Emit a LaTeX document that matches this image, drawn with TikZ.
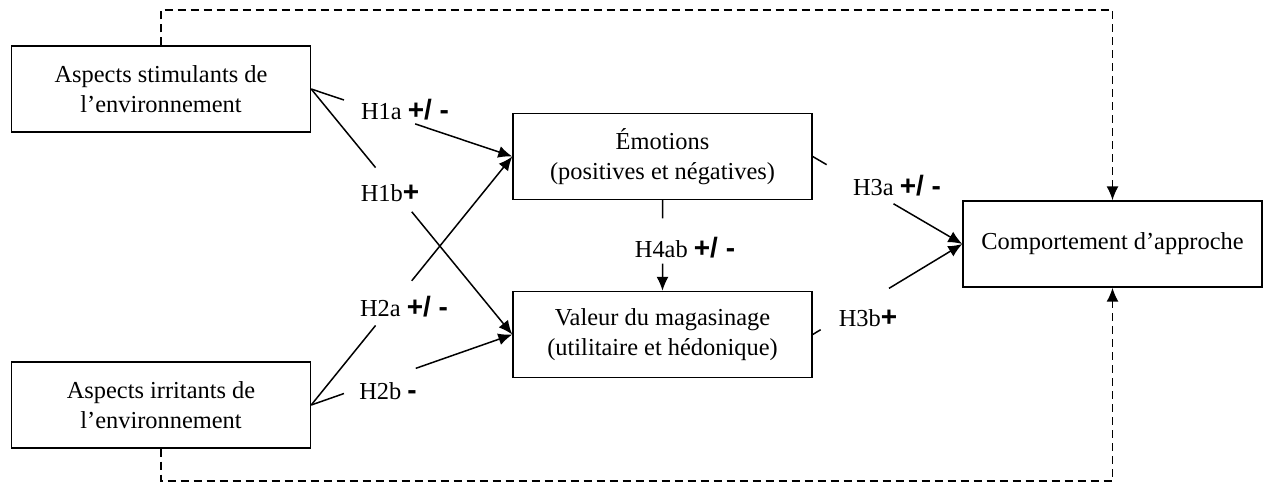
\documentclass[tikz,border=0pt]{standalone}
\usepackage{fontspec}
\setmainfont{Liberation Serif}
\setsansfont{Liberation Sans}
\usetikzlibrary{calc, arrows.meta}
\tikzset{
	boite/.style={draw, line width=0.7pt, minimum width=149.5pt, minimum height=43pt, align=center, inner sep=2pt},
	hyp/.style={inner sep=0pt},
	fleche/.style={line width=0.75pt},
	pointe/.style={-{Latex[length=7pt, width=6pt]}},
	retour/.style={line width=0.75pt, dash pattern=on 4pt off 2.5pt}
}
\newcommand{\signe}[1]{{\fontsize{14}{15}\selectfont\sffamily\bfseries #1}}

\begin{document}
\begin{tikzpicture}[x=0.5pt, y=-0.5pt, font=\fontsize{12.2}{15}\selectfont]
		\useasboundingbox (0,0) rectangle (1263,484);
		
		\node[boite] (stim) at (161, 89) {Aspects stimulants de\\l'environnement};
		\node[boite] (irr) at (161, 405) {Aspects irritants de\\l'environnement};
		\node[boite] (emo) at (662.5, 156.5) {Émotions\\(positives et négatives)};
		\node[boite] (val) at (662.5, 334.5) {Valeur du magasinage\\(utilitaire et hédonique)};
		\node[boite] (comp) at (1112.5, 244) {Comportement d'approche};
		
		\node[hyp] (h1a) at (405, 110) {H1a \signe{+/ -}};
		\node[hyp] (h1b) at (390, 193) {H1b\signe{+}};
		\node[hyp] (h2a) at (404, 307) {H2a \signe{+/ -}};
		\node[hyp] (h2b) at (388, 391) {H2b \signe{-}};
		\node[hyp] (h4ab) at (685, 248) {H4ab \signe{+/ -}};
		\node[hyp] (h3a) at (897, 186) {H3a \signe{+/ -}};
		\node[hyp] (h3b) at (868, 318) {H3b\signe{+}};
		
		% coupures des fleches autour des hypotheses
		\coordinate (a1) at ($(stim.east)!0.163!(emo.west)$);
		\coordinate (a2) at ($(stim.east)!0.517!(emo.west)$);
		\coordinate (b1) at ($(stim.east)!0.32!(val.west)$);
		\coordinate (b2) at ($(stim.east)!0.5!(val.west)$);
		\coordinate (c1) at ($(irr.east)!0.32!(emo.west)$);
		\coordinate (c2) at ($(irr.east)!0.5!(emo.west)$);
		\coordinate (d1) at ($(irr.east)!0.163!(val.west)$);
		\coordinate (d2) at ($(irr.east)!0.52!(val.west)$);
		\coordinate (e1) at ($(emo.south)!0.2!(val.north)$);
		\coordinate (e2) at ($(emo.south)!0.7!(val.north)$);
		\coordinate (f1) at ($(emo.east)!0.093!(comp.west)$);
		\coordinate (f2) at ($(emo.east)!0.54!(comp.west)$);
		\coordinate (g1) at ($(val.east)!0.053!(comp.west)$);
		\coordinate (g2) at ($(val.east)!0.51!(comp.west)$);
		
		\draw[fleche] (stim.east) -- (a1);
		\draw[fleche, pointe] (a2) -- (emo.west);
		\draw[fleche] (stim.east) -- (b1);
		\draw[fleche, pointe] (b2) -- (val.west);
		\draw[fleche] (irr.east) -- (c1);
		\draw[fleche, pointe] (c2) -- (emo.west);
		\draw[fleche] (irr.east) -- (d1);
		\draw[fleche, pointe] (d2) -- (val.west);
		\draw[fleche] (emo.south) -- (e1);
		\draw[fleche, pointe] (e2) -- (val.north);
		\draw[fleche] (emo.east) -- (f1);
		\draw[fleche, pointe] (f2) -- (comp.west);
		\draw[fleche] (val.east) -- (g1);
		\draw[fleche, pointe] (g2) -- (comp.west);
		
		% liens directs en pointilles
		\draw[retour, pointe] (stim.north) -- (161, 10) -| (comp.north);
		\draw[retour, pointe] (irr.south) -- (161, 481) -| (comp.south);
	\end{tikzpicture}
\end{document}
